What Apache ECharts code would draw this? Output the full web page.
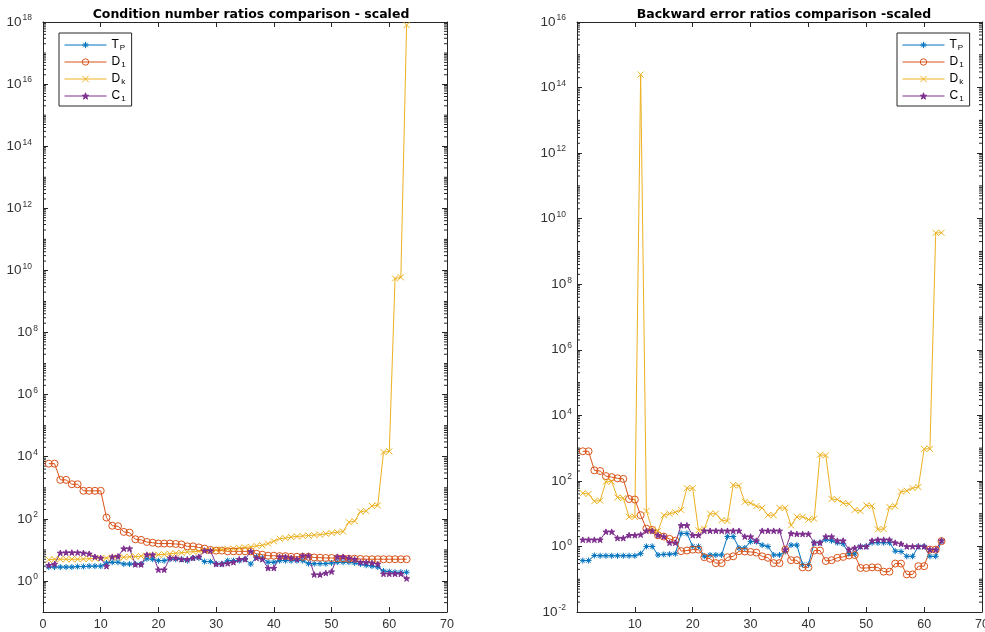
<!DOCTYPE html>
<html>
<head>
<meta charset="utf-8">
<script src="https://cdn.jsdelivr.net/npm/echarts@6/dist/echarts.min.js"></script>
<style>html,body{margin:0;padding:0;background:#fff;}#c{width:985px;height:632px;}</style>
</head>
<body>
<div id="c"></div>
<script>
// ---- data ----
const xIdx = [1,2,3,4,5,6,7,8,9,10,11,12,13,14,15,16,17,18,19,20,21,22,23,24,25,26,27,28,29,30,31,32,33,34,35,36,37,38,39,40,41,42,43,44,45,46,47,48,49,50,51,52,53,54,55,56,57,58,59,60,61,62,63];
const seriesNames = ['TP', 'D1', 'Dk', 'C1'];
const xTicks = [0, 10, 20, 30, 40, 50, 60, 70];

// Condition number ratios (left)
const condTP = [2.8,2.8,2.8,2.8,2.8,2.9,2.9,3,3,3,3.8,4,4,3.5,3.5,3.5,3.5,5.2,5,4.5,4.5,5,5,5,4.5,5.5,5.5,4.2,4.2,3.6,3.6,4.5,4.5,4.5,5,3.5,6,5.5,4,4,4.5,4.5,4.5,4.5,4.5,3.6,3.6,3.6,3.6,3.8,4,4,4,3.8,3.5,3.2,3,2.8,2.1,2,1.9,1.9,1.9];
const condD1 = [6000,6000,1800,1800,1300,1300,800,800,800,800,110,60,58,38,36,22,21,18,17,16,16,16,15.5,15,13,13,12,11,10,9.5,9.5,9,9,9,9,9,7.5,7,6.5,6.5,6.3,6.3,6,6,6,6,5.7,5.6,5.5,5.5,5.4,5.3,5.2,5.2,5.1,5,5,5,5,5,5,5,5];
const condDk = [4.8,5,5,5,5,5,5.1,5.2,5.3,5.4,5.5,5.6,5.7,5.8,6,6.1,6.3,6.5,6.7,7,7.2,7.5,7.8,8.1,8.5,8.8,9,9.3,9.6,10,10.3,10.7,11,11.5,12,12.5,13.5,14,16,19,23,24,26,27,28,29,30,31,33,35,37,39,78,85,170,180,260,270,14000,15000,5.5e9,6e9,8e17];
const condC1 = [3.2,3.5,8,8.2,8.2,8.2,8,7.5,6,5.5,3,6,6.2,11,11,3.4,3.4,7,7,2.3,2.3,5.5,5.5,5,5,5.5,6,9.5,9.5,3.5,3.5,3.7,4,5,5,9,5.5,5,2.6,2.6,6,6,5.5,5,6.5,6.5,1.6,1.6,1.8,2,6,6,5.5,5,4,4,3.8,3.5,1.7,1.7,1.7,1.7,1.2];

// Backward error ratios (right)
const backTP = [0.37,0.37,0.53,0.52,0.52,0.52,0.52,0.52,0.52,0.52,0.6,1,1,0.55,0.57,0.58,0.6,2.5,2.5,1,1,0.5,0.55,0.55,0.55,2,2,0.9,0.9,1.4,1.4,1.1,1,0.55,0.55,0.7,1.1,1.1,0.28,0.28,1.3,1.3,1.6,1.5,1.3,1.2,0.6,0.6,1,1,1.3,1.3,1.3,1.3,0.72,0.7,0.5,0.5,1,1,0.5,0.5,1.5];
const backD1 = [800,800,210,200,140,130,120,115,28,27,9,3.5,3.2,2.2,2,1.7,1.5,0.72,0.75,0.8,0.8,0.47,0.42,0.31,0.31,0.47,0.5,0.72,0.7,0.68,0.65,0.5,0.45,0.31,0.31,0.8,0.38,0.38,0.23,0.23,0.75,0.75,0.36,0.38,0.45,0.48,0.53,0.55,0.22,0.22,0.23,0.23,0.17,0.17,0.3,0.3,0.14,0.14,0.25,0.25,0.8,0.8,1.45];
const backDk = [42,40,24,25,95,95,31,30,8,8,2.5e14,12,3.3,3,9,10,11,13,60,60,3.1,3.5,10,10,6.3,6,75,72,23,21,17,15,9,9,15,15,4.4,8,8,6.6,7,630,600,28,27,21,20,13,12,18,17,3.3,3.4,16,17,47,50,60,65,950,950,3.7e9,3.7e9];
const backC1 = [1.6,1.6,1.6,1.6,2.8,2.8,1.8,1.8,2.2,2.2,2.3,3,3,2.2,2,1.3,1.3,4.4,4.4,2.2,2.2,3,3,3,3,3,3,3,2,2,1.5,3,3,3,3,0.8,2.5,2.4,2.4,2.4,1.3,1.3,2,2,1.5,1.5,0.8,0.9,1,1,1.5,1.6,1.6,1.6,1.3,1.2,1,1,1,1,0.8,0.8,1.5];

const titles = ['Condition number ratios comparison - scaled', 'Backward error ratios comparison -scaled'];

// ---- styling ----
const FONT = '"Liberation Sans", Arial, Helvetica, sans-serif';
const TFONT = '"DejaVu Sans", "Liberation Sans", Arial, sans-serif';
const AX = '#262626';
const colors = {TP: '#0072BD', D1: '#D95319', Dk: '#EDB120', C1: '#7E2F8E'};
const symbols = {
  TP: 'path://M0,-1L0,1M-1,0L1,0M-0.7,-0.7L0.7,0.7M-0.7,0.7L0.7,-0.7',
  D1: 'circle',
  Dk: 'path://M-1,-1L1,1M-1,1L1,-1',
  C1: 'path://M0,-1L0.225,-0.309L0.951,-0.309L0.363,0.118L0.588,0.809L0,0.382L-0.588,0.809L-0.363,0.118L-0.951,-0.309L-0.225,-0.309Z'
};
const symSize = {TP: 6, D1: 7, Dk: 6, C1: 6};
const legendLabel = {TP: '{m|T}{s|P}', D1: '{m|D}{s|1}', Dk: '{m|D}{s|k}', C1: '{m|C}{s|1}'};

const grids = [
  {left: 43, top: 22, width: 404, height: 590, outerBoundsMode: 'none'},
  {left: 577, top: 22, width: 405, height: 590, outerBoundsMode: 'none'}
];
const yRanges = [[0.1, 1e18], [0.01, 1e16]];
const panelData = [
  {TP: condTP, D1: condD1, Dk: condDk, C1: condC1},
  {TP: backTP, D1: backD1, Dk: backDk, C1: backC1}
];

function expLabel(v) {
  const e = Math.round(Math.log10(v));
  if (e % 2 !== 0) return '';
  const s = String(e);
  return '{b|10}{e' + s.length + '|' + s + '}';
}
const yRich = {
  b: {fontSize: 13.5, color: '#333', fontFamily: FONT},
  e1: {fontSize: 8.5, color: '#333', fontFamily: FONT, padding: [0, 0, 8, 1]},
  e2: {fontSize: 8.5, color: '#333', fontFamily: FONT, padding: [0, 6, 8, 1]}
};

const xAxes = [], yAxes = [], series = [];
grids.forEach((g, gi) => {
  xAxes.push({
    gridIndex: gi, type: 'value', min: xTicks[0], max: xTicks[xTicks.length - 1], interval: 10,
    axisLine: {onZero: false, lineStyle: {color: AX, width: 1}},
    axisTick: {inside: true, length: 5, lineStyle: {color: AX}},
    axisLabel: {color: '#333', fontSize: 12.5, fontFamily: FONT, margin: 6, showMinLabel: gi === 0, showMaxLabel: true},
    splitLine: {show: false}
  });
  xAxes.push({
    gridIndex: gi, type: 'value', position: 'top', min: xTicks[0], max: xTicks[xTicks.length - 1], interval: 10,
    axisLine: {onZero: false, lineStyle: {color: AX, width: 1}},
    axisTick: {inside: true, length: 5, lineStyle: {color: AX}},
    axisLabel: {show: false}, splitLine: {show: false}
  });
  yAxes.push({
    gridIndex: gi, type: 'log', logBase: 100, min: yRanges[gi][0], max: yRanges[gi][1], splitNumber: 9,
    axisLine: {onZero: false, lineStyle: {color: AX, width: 1}},
    axisTick: {inside: true, length: 5, lineStyle: {color: AX}},
    axisLabel: {formatter: expLabel, rich: yRich, margin: 5, showMinLabel: true, showMaxLabel: true},
    splitLine: {show: false}
  });
  yAxes.push({
    gridIndex: gi, type: 'log', logBase: 100, position: 'right', min: yRanges[gi][0], max: yRanges[gi][1], splitNumber: 9,
    axisLine: {onZero: false, lineStyle: {color: AX, width: 1}},
    axisTick: {inside: true, length: 5, lineStyle: {color: AX}},
    axisLabel: {show: false}, splitLine: {show: false}
  });

  // minor log ticks (2..9 x 10^k and odd decades)
  const lo = Math.round(Math.log10(yRanges[gi][0])), hi = Math.round(Math.log10(yRanges[gi][1]));
  const minor = [];
  for (let k = lo; k < hi; k++) {
    for (let m = 1; m <= 9; m++) {
      if (m === 1 && k % 2 === 0) continue;
      if (m === 1 && k === lo) continue;
      minor.push([0, m * Math.pow(10, k)]);
    }
  }
  series.push({
    type: 'custom', name: 'minorTicks' + gi, xAxisIndex: gi * 2, yAxisIndex: gi * 2, silent: true, z: 1,
    data: minor,
    renderItem: function (params, api) {
      const p = api.coord([0, api.value(1)]);
      const cs = params.coordSys;
      const st = {stroke: AX, lineWidth: 1};
      return {type: 'group', children: [
        {type: 'line', shape: {x1: cs.x, y1: p[1], x2: cs.x + 3, y2: p[1]}, style: st},
        {type: 'line', shape: {x1: cs.x + cs.width, y1: p[1], x2: cs.x + cs.width - 3, y2: p[1]}, style: st}
      ]};
    }
  });

  seriesNames.forEach(n => {
    const vals = panelData[gi][n];
    series.push({
      type: 'line', name: n, xAxisIndex: gi * 2, yAxisIndex: gi * 2,
      data: xIdx.map((x, i) => [x, vals[i]]),
      symbol: symbols[n], symbolSize: symSize[n], symbolKeepAspect: true, showSymbol: true,
      lineStyle: {color: colors[n], width: 1},
      itemStyle: {color: n === 'C1' ? colors[n] : 'rgba(0,0,0,0)', borderColor: colors[n], borderWidth: 1},
      emphasis: {disabled: true},
      z: 2
    });
  });
});

const legendBase = {
  orient: 'vertical', top: 33, data: seriesNames,
  itemWidth: 42, itemHeight: 8, itemGap: 3,
  padding: [5, 6, 3, 5],
  borderColor: AX, borderWidth: 1, backgroundColor: '#fff',
  itemStyle: {borderWidth: 1},
  lineStyle: {width: 1},
  formatter: n => legendLabel[n],
  textStyle: {
    color: '#000', fontFamily: FONT, fontSize: 12,
    rich: {
      m: {fontSize: 12, color: '#000', fontFamily: FONT, lineHeight: 14},
      s: {fontSize: 8, color: '#000', fontFamily: FONT, padding: [6, 0, 0, 1], lineHeight: 14}
    }
  },
  selectedMode: false
};

const chart = echarts.init(document.getElementById('c'), null, {renderer: 'canvas'});
chart.setOption({
  animation: false,
  backgroundColor: '#fff',
  title: [
    {text: titles[0], left: 246, top: 3, textAlign: 'center', textStyle: {fontSize: 12.5, fontWeight: 'bold', color: '#000', fontFamily: TFONT}},
    {text: titles[1], left: 779, top: 3, textAlign: 'center', textStyle: {fontSize: 12.5, fontWeight: 'bold', color: '#000', fontFamily: TFONT}}
  ],
  legend: [
    Object.assign({}, legendBase, {left: 59}),
    Object.assign({}, legendBase, {left: 897})
  ],
  grid: grids,
  xAxis: xAxes,
  yAxis: yAxes,
  series: series
});
</script>
</body>
</html>
